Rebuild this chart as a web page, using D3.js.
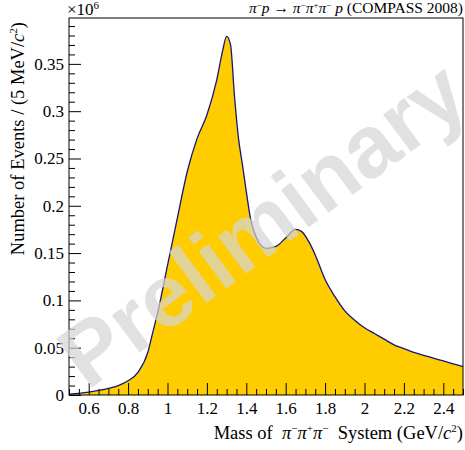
<!DOCTYPE html>
<html>
<head>
<meta charset="utf-8">
<script src="https://cdn.jsdelivr.net/npm/d3@7"></script>
<style>
  body { margin: 0; background: #fff; }
  svg { display: block; font-family: "Liberation Serif", "DejaVu Serif", serif; }
</style>
</head>
<body>
<svg id="chart"></svg>
<script>
// mass of the 3pi system (GeV/c^2) and events per 5 MeV (x10^6)
const mass = [0.50, 0.55, 0.60, 0.65, 0.70, 0.75, 0.80, 0.85, 0.90, 0.925, 0.95,
  1.00, 1.05, 1.10, 1.15, 1.20, 1.25, 1.28, 1.30, 1.32, 1.34, 1.36, 1.38, 1.40,
  1.42, 1.45, 1.50, 1.55, 1.60, 1.65, 1.68, 1.72, 1.75, 1.80, 1.85, 1.90, 1.95,
  2.00, 2.05, 2.10, 2.15, 2.20, 2.25, 2.30, 2.35, 2.40, 2.45, 2.50];
const events = [0.001, 0.0018, 0.003, 0.0048, 0.007, 0.010, 0.015, 0.024, 0.045, 0.066, 0.087,
  0.137, 0.187, 0.236, 0.271, 0.296, 0.333, 0.364, 0.379, 0.370, 0.316, 0.272, 0.244, 0.215,
  0.188, 0.167, 0.155, 0.157, 0.166, 0.175, 0.173, 0.161, 0.148, 0.122, 0.104, 0.089, 0.079,
  0.071, 0.065, 0.059, 0.053, 0.049, 0.045, 0.042, 0.039, 0.036, 0.033, 0.030];

const xMajor = [0.6, 0.8, 1.0, 1.2, 1.4, 1.6, 1.8, 2.0, 2.2, 2.4];
const yMajor = [0, 0.05, 0.1, 0.15, 0.2, 0.25, 0.3, 0.35];

const margin = {top: 18, right: 2, bottom: 55, left: 69},
    svgWidth = 465,
    svgHeight = 450,
    width = svgWidth - margin.left - margin.right,
    height = svgHeight - margin.top - margin.bottom;

const chart = d3.select('#chart')
    .attr("width", svgWidth)
    .attr("height", svgHeight);

const g = chart.append("g")
    .attr("transform", `translate(${margin.left},${margin.top})`);

var xScale = d3.scaleLinear().domain([0.5, 2.5]).range([0, width]);
var yScale = d3.scaleLinear().domain([0, 0.3985]).range([height, 0]);

const data = mass.map((m, i) => ({m: m, v: events[i]}));

// filled histogram shape
var area = d3.area()
    .x(d => xScale(d.m))
    .y0(yScale(0))
    .y1(d => yScale(d.v))
    .curve(d3.curveMonotoneX);

var line = d3.line()
    .x(d => xScale(d.m))
    .y(d => yScale(d.v))
    .curve(d3.curveMonotoneX);

g.append("path").datum(data)
    .attr("d", area)
    .attr("fill", "#ffcc00");

g.append("path").datum(data)
    .attr("d", line)
    .attr("fill", "none")
    .attr("stroke", "#15157a")
    .attr("stroke-width", 1.3);

// frame
g.append("rect")
    .attr("width", width).attr("height", height)
    .attr("fill", "none").attr("stroke", "#000").attr("stroke-width", 1);

// minor ticks
const xMinor = d3.range(0.5, 2.5001, 0.05).filter(v => !xMajor.some(m => Math.abs(m - v) < 1e-6));
const yMinor = d3.range(0, 0.3985, 0.01).filter(v => !yMajor.some(m => Math.abs(m - v) < 1e-6));

g.append("g")
    .attr("transform", `translate(0,${height})`)
    .call(d3.axisBottom(xScale).tickValues(xMinor).tickSize(-6).tickFormat(""))
    .call(a => a.select(".domain").remove());

g.append("g")
    .call(d3.axisLeft(yScale).tickValues(yMinor).tickSize(-6).tickFormat(""))
    .call(a => a.select(".domain").remove());

// major ticks with labels
const xAx = g.append("g")
    .attr("transform", `translate(0,${height})`)
    .call(d3.axisBottom(xScale).tickValues(xMajor).tickSize(-12).tickPadding(7)
        .tickFormat(d => String(+d.toFixed(1))));
xAx.select(".domain").remove();
xAx.selectAll("text").attr("font-size", 17).attr("font-family", "Liberation Serif").attr("fill", "#000");

const yAx = g.append("g")
    .call(d3.axisLeft(yScale).tickValues(yMajor).tickSize(-12).tickPadding(5)
        .tickFormat(d => String(+d.toFixed(2))));
yAx.select(".domain").remove();
yAx.selectAll("text").attr("font-size", 17).attr("font-family", "Liberation Serif").attr("fill", "#000");

chart.selectAll(".tick line").attr("stroke", "#000").attr("stroke-width", 1);

// axis titles
const xt = chart.append("text")
    .attr("x", 463).attr("y", 439)
    .attr("text-anchor", "end")
    .attr("font-size", 18.5);
xt.append("tspan").text("Mass of\u00a0\u00a0");
xt.append("tspan").attr("font-style", "italic").text("π");
xt.append("tspan").attr("font-size", 11).attr("dy", -7).text("−");
xt.append("tspan").attr("font-style", "italic").attr("dy", 7).text("π");
xt.append("tspan").attr("font-size", 11).attr("dy", -7).text("+");
xt.append("tspan").attr("font-style", "italic").attr("dy", 7).text("π");
xt.append("tspan").attr("font-size", 11).attr("dy", -7).text("−");
xt.append("tspan").attr("dy", 7).text("\u00a0\u00a0System (GeV/");
xt.append("tspan").attr("font-style", "italic").text("c");
xt.append("tspan").attr("font-size", 11).attr("dy", -7).text("2");
xt.append("tspan").attr("dy", 7).text(")");

const yt = chart.append("text")
    .attr("transform", "translate(24,22) rotate(-90)")
    .attr("text-anchor", "end")
    .attr("font-size", 18.5);
yt.append("tspan").text("Number of Events / (5 MeV/");
yt.append("tspan").attr("font-style", "italic").text("c");
yt.append("tspan").attr("font-size", 11).attr("dy", -7).text("2");
yt.append("tspan").attr("dy", 7).text(")");

// exponent
const ex = chart.append("text")
    .attr("x", 67).attr("y", 15)
    .attr("font-size", 17);
ex.append("tspan").text("×10");
ex.append("tspan").attr("font-size", 11).attr("dy", -6).text("6");

// reaction title
const tt = chart.append("text")
    .attr("x", 463).attr("y", 13)
    .attr("text-anchor", "end")
    .attr("font-size", 15.5);
tt.append("tspan").attr("font-style", "italic").text("π");
tt.append("tspan").attr("font-size", 9).attr("dy", -5).text("−");
tt.append("tspan").attr("font-style", "italic").attr("dy", 5).text("p");
tt.append("tspan").text(" → ");
tt.append("tspan").attr("font-style", "italic").text("π");
tt.append("tspan").attr("font-size", 9).attr("dy", -5).text("−");
tt.append("tspan").attr("font-style", "italic").attr("dy", 5).text("π");
tt.append("tspan").attr("font-size", 9).attr("dy", -5).text("+");
tt.append("tspan").attr("font-style", "italic").attr("dy", 5).text("π");
tt.append("tspan").attr("font-size", 9).attr("dy", -5).text("−");
tt.append("tspan").attr("font-style", "italic").attr("dy", 5).text("\u00a0p");
tt.append("tspan").text(" (COMPASS 2008)");

// watermark
chart.append("text")
    .attr("transform", "translate(262,224) rotate(-36.5)")
    .attr("text-anchor", "middle")
    .attr("dominant-baseline", "central")
    .attr("font-family", "Liberation Sans, Arial, sans-serif")
    .attr("font-weight", "bold")
    .attr("font-size", 88)
    .attr("fill", "#d4d4d4")
    .attr("fill-opacity", 0.7)
    .text("Preliminary");
</script>
</body>
</html>
